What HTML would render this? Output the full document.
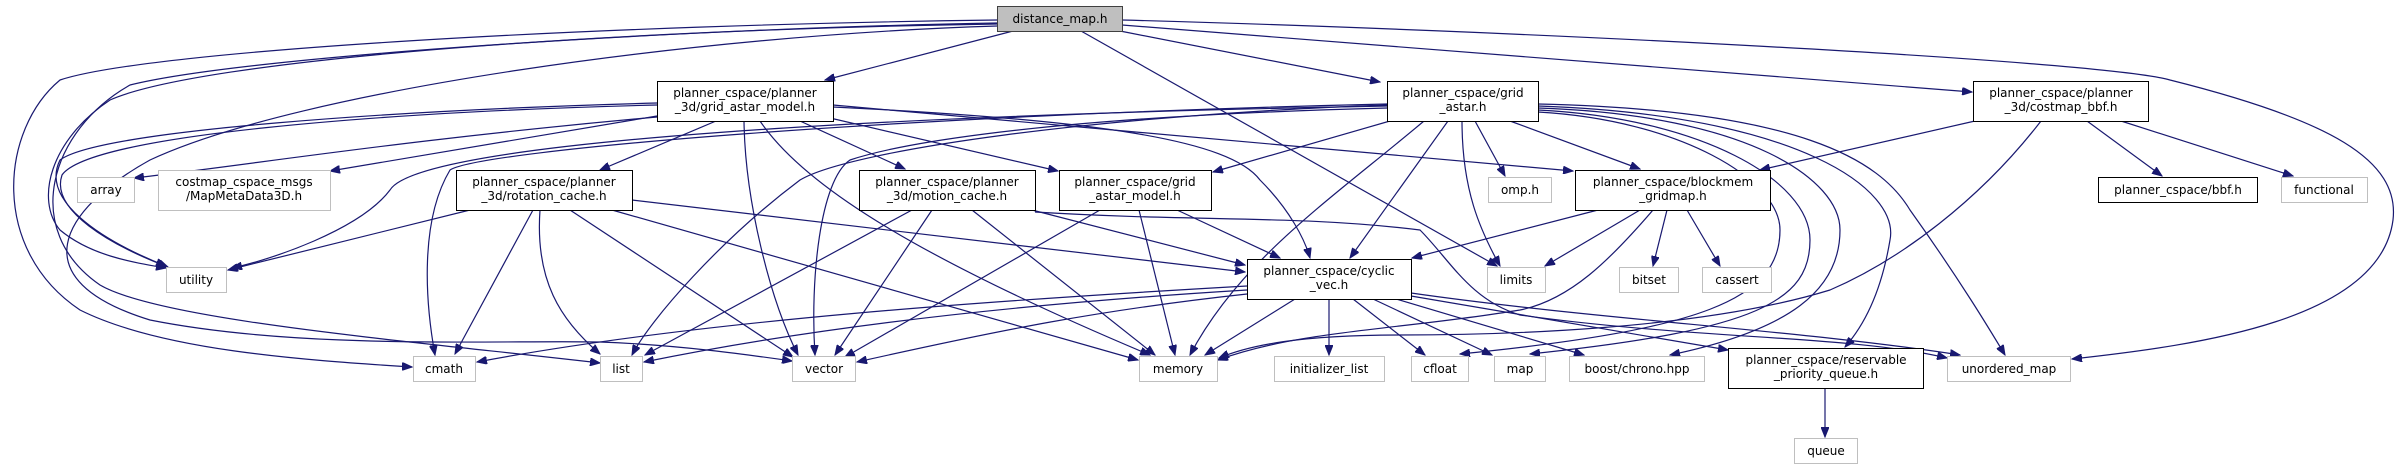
<!DOCTYPE html>
<html><head><meta charset="utf-8"><style>
html,body{margin:0;padding:0;background:#fff}
svg{display:block}
text{font-family:"DejaVu Sans","Liberation Sans",sans-serif;font-size:12px;fill:#000}
.e{fill:none;stroke:#191970;stroke-width:1.2}
.n{fill:#fff;stroke:#000;stroke-width:1}
.g{fill:#fff;stroke:#bfbfbf;stroke-width:1}
</style></head><body>
<svg width="2403" height="469" viewBox="0 0 2403 469" xmlns="http://www.w3.org/2000/svg">
<defs><marker id="a" markerUnits="userSpaceOnUse" markerWidth="11" markerHeight="8" refX="10" refY="4" orient="auto"><path d="M0,0 L10,4 L0,8 z" fill="#191970" stroke="#191970"/></marker></defs>
<g class="e" marker-end="url(#a)">
<path d="M1013,31 L825,80"/>
<path d="M1120,31 L1380,82"/>
<path d="M1081,31 L1497,266"/>
<path d="M1122,25 L1972,92"/>
<path d="M1122,20 C1500,30 2100,60 2170,80 C2330,120 2400,160 2393,220 C2380,320 2200,345 2072,359"/>
<path d="M997,20 C600,25 150,50 60,80 C0,130 -10,250 80,310 C160,350 300,360 412,367"/>
<path d="M997,23 C700,28 250,55 130,85 C50,130 20,230 100,285 C160,320 400,340 600,363"/>
<path d="M997,26 C700,35 300,90 150,160 C60,210 20,280 150,320 C300,350 500,340 600,342 C680,345 750,355 792,361"/>
<path d="M997,24 C600,30 200,60 110,100 C50,140 35,200 60,230 C90,255 130,262 166,268"/>
<path d="M657,117 C400,140 250,165 134,178"/>
<path d="M657,116 L330,171"/>
<path d="M657,103 C400,110 100,130 60,160 C40,200 100,240 166,266"/>
<path d="M657,105 C380,112 90,135 62,175 C50,210 110,245 168,267"/>
<path d="M716,121 L600,170"/>
<path d="M800,121 L905,169"/>
<path d="M830,118 L1058,171"/>
<path d="M833,107 C1100,120 1230,140 1260,180 C1290,210 1305,240 1310,258"/>
<path d="M760,121 C800,180 900,250 1150,355"/>
<path d="M744,121 C745,200 770,300 798,355"/>
<path d="M833,105 L1573,171"/>
<path d="M1390,121 L1213,172"/>
<path d="M1424,121 C1330,200 1240,260 1190,355"/>
<path d="M1448,121 L1350,258"/>
<path d="M1462,121 C1462,190 1480,230 1500,266"/>
<path d="M1475,121 L1505,176"/>
<path d="M1510,121 L1640,169"/>
<path d="M1387,105 C1100,115 850,150 800,180 C720,240 650,320 632,355"/>
<path d="M1387,108 C1000,118 880,150 850,160 C820,180 810,280 815,355"/>
<path d="M1387,104 C900,115 480,150 450,170 C420,220 425,300 435,355"/>
<path d="M1387,106 C900,115 420,140 390,190 C360,230 270,260 232,268"/>
<path d="M1538,104 C1800,110 1880,160 1910,210 C1960,280 1990,330 2005,355"/>
<path d="M1538,106 C1800,115 1900,190 1890,240 C1880,300 1860,330 1845,347"/>
<path d="M1538,108 C1750,115 1840,180 1840,230 C1840,290 1790,330 1670,355"/>
<path d="M1538,110 C1700,118 1810,180 1810,240 C1810,300 1760,330 1530,354"/>
<path d="M1538,112 C1680,120 1780,180 1780,230 C1780,300 1700,330 1460,354"/>
<path d="M470,210 L228,270"/>
<path d="M533,210 L455,354"/>
<path d="M540,210 C535,280 560,320 600,354"/>
<path d="M570,210 L793,357"/>
<path d="M612,210 L1138,360"/>
<path d="M632,200 L1245,272"/>
<path d="M912,210 L645,355"/>
<path d="M932,210 L835,355"/>
<path d="M972,210 L1155,355"/>
<path d="M1032,210 L1245,265"/>
<path d="M1035,212 C1200,222 1300,215 1420,230 C1450,260 1470,300 1520,315 C1700,340 1850,335 1947,358"/>
<path d="M1100,210 L845,357"/>
<path d="M1139,210 L1175,355"/>
<path d="M1177,210 L1280,258"/>
<path d="M1247,286 C1000,300 700,320 477,362"/>
<path d="M1247,290 C1000,305 800,330 644,362"/>
<path d="M1247,294 C1100,310 1000,330 857,362"/>
<path d="M1295,299 L1205,355"/>
<path d="M1329,299 L1329,355"/>
<path d="M1353,299 L1425,355"/>
<path d="M1373,299 L1492,355"/>
<path d="M1396,299 L1584,355"/>
<path d="M1411,296 L1728,350"/>
<path d="M1411,293 C1600,320 1800,330 1960,355"/>
<path d="M1598,210 L1412,258"/>
<path d="M1640,210 L1545,266"/>
<path d="M1667,210 L1653,266"/>
<path d="M1687,210 L1720,266"/>
<path d="M1653,210 C1610,260 1570,300 1520,310 C1400,330 1300,330 1218,360"/>
<path d="M1975,121 L1760,170"/>
<path d="M2087,121 L2162,176"/>
<path d="M2121,121 L2293,176"/>
<path d="M2041,121 C1980,200 1900,260 1830,290 C1700,330 1500,335 1400,335 C1300,335 1250,345 1219,358"/>
<path d="M1825,388 L1825,437"/>
</g>
<rect x="997.5" y="6.5" width="125" height="25" fill="#bfbfbf" stroke="#404040"/>
<text x="1060" y="23" text-anchor="middle">distance_map.h</text>
<rect class="n" x="657.5" y="81.5" width="176" height="40"/>
<text x="745" y="97" text-anchor="middle">planner_cspace/planner</text><text x="745" y="111" text-anchor="middle">_3d/grid_astar_model.h</text>
<rect class="n" x="1387.5" y="81.5" width="151" height="40"/>
<text x="1463" y="97" text-anchor="middle">planner_cspace/grid</text><text x="1463" y="111" text-anchor="middle">_astar.h</text>
<rect class="n" x="1973.5" y="81.5" width="175" height="40"/>
<text x="2061" y="97" text-anchor="middle">planner_cspace/planner</text><text x="2061" y="111" text-anchor="middle">_3d/costmap_bbf.h</text>
<rect class="g" x="77.5" y="177.5" width="57" height="25"/><text x="106" y="194" text-anchor="middle">array</text>
<rect class="g" x="158.5" y="170.5" width="172" height="40"/>
<text x="244" y="186" text-anchor="middle">costmap_cspace_msgs</text><text x="244" y="200" text-anchor="middle">/MapMetaData3D.h</text>
<rect class="n" x="456.5" y="170.5" width="176" height="40"/>
<text x="544" y="186" text-anchor="middle">planner_cspace/planner</text><text x="544" y="200" text-anchor="middle">_3d/rotation_cache.h</text>
<rect class="n" x="859.5" y="170.5" width="176" height="40"/>
<text x="947" y="186" text-anchor="middle">planner_cspace/planner</text><text x="947" y="200" text-anchor="middle">_3d/motion_cache.h</text>
<rect class="n" x="1059.5" y="170.5" width="152" height="40"/>
<text x="1135" y="186" text-anchor="middle">planner_cspace/grid</text><text x="1135" y="200" text-anchor="middle">_astar_model.h</text>
<rect class="g" x="1488.5" y="177.5" width="63" height="25"/><text x="1520" y="194" text-anchor="middle">omp.h</text>
<rect class="n" x="1575.5" y="170.5" width="195" height="40"/>
<text x="1673" y="186" text-anchor="middle">planner_cspace/blockmem</text><text x="1673" y="200" text-anchor="middle">_gridmap.h</text>
<rect class="n" x="2098.5" y="177.5" width="159" height="25"/><text x="2178" y="194" text-anchor="middle">planner_cspace/bbf.h</text>
<rect class="g" x="2281.5" y="177.5" width="86" height="25"/><text x="2324" y="194" text-anchor="middle">functional</text>
<rect class="g" x="166.5" y="267.5" width="60" height="25"/><text x="196" y="284" text-anchor="middle">utility</text>
<rect class="n" x="1247.5" y="259.5" width="164" height="40"/>
<text x="1329" y="275" text-anchor="middle">planner_cspace/cyclic</text><text x="1329" y="289" text-anchor="middle">_vec.h</text>
<rect class="g" x="1487.5" y="267.5" width="58" height="25"/><text x="1516" y="284" text-anchor="middle">limits</text>
<rect class="g" x="1619.5" y="267.5" width="59" height="25"/><text x="1649" y="284" text-anchor="middle">bitset</text>
<rect class="g" x="1702.5" y="267.5" width="69" height="25"/><text x="1737" y="284" text-anchor="middle">cassert</text>
<rect class="g" x="413.5" y="356.5" width="62" height="25"/><text x="444" y="373" text-anchor="middle">cmath</text>
<rect class="g" x="600.5" y="356.5" width="42" height="25"/><text x="621" y="373" text-anchor="middle">list</text>
<rect class="g" x="792.5" y="356.5" width="63" height="25"/><text x="824" y="373" text-anchor="middle">vector</text>
<rect class="g" x="1139.5" y="356.5" width="78" height="25"/><text x="1178" y="373" text-anchor="middle">memory</text>
<rect class="g" x="1274.5" y="356.5" width="110" height="25"/><text x="1329" y="373" text-anchor="middle">initializer_list</text>
<rect class="g" x="1411.5" y="356.5" width="57" height="25"/><text x="1440" y="373" text-anchor="middle">cfloat</text>
<rect class="g" x="1494.5" y="356.5" width="51" height="25"/><text x="1520" y="373" text-anchor="middle">map</text>
<rect class="g" x="1569.5" y="356.5" width="135" height="25"/><text x="1637" y="373" text-anchor="middle">boost/chrono.hpp</text>
<rect class="n" x="1728.5" y="348.5" width="195" height="40"/>
<text x="1826" y="364" text-anchor="middle">planner_cspace/reservable</text><text x="1826" y="378" text-anchor="middle">_priority_queue.h</text>
<rect class="g" x="1947.5" y="356.5" width="123" height="25"/><text x="2009" y="373" text-anchor="middle">unordered_map</text>
<rect class="g" x="1794.5" y="438.5" width="63" height="25"/><text x="1826" y="455" text-anchor="middle">queue</text>
</svg>
</body></html>
